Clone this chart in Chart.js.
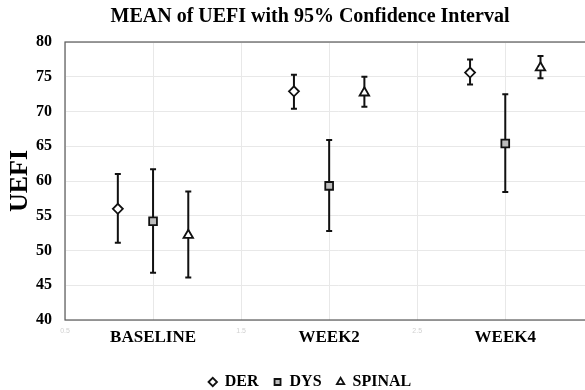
<!DOCTYPE html>
<html>
<head>
<meta charset="utf-8">
<script src="https://cdn.jsdelivr.net/npm/chart.js@4.4.1/dist/chart.umd.min.js"></script>
<style>
  html, body { margin: 0; padding: 0; background: #fff; overflow: hidden; }
  #wrap { width: 620px; height: 400px; }
</style>
</head>
<body>
<div id="wrap"><canvas id="myChart"></canvas></div>
<script>
// data
const categories = ['BASELINE', 'WEEK2', 'WEEK4']
const seriesNames = ['DER', 'DYS', 'SPINAL']
const groupOffsets = [-0.2, 0, 0.2]

const derMean = [56.0, 72.9, 75.6]
const derLow = [51.1, 70.4, 73.9]
const derHigh = [61.0, 75.3, 77.5]

const dysMean = [54.2, 59.3, 65.4]
const dysLow = [46.8, 52.8, 58.4]
const dysHigh = [61.7, 65.9, 72.5]

const spinalMean = [52.2, 72.7, 76.3]
const spinalLow = [46.1, 70.7, 74.8]
const spinalHigh = [58.5, 75.0, 78.0]

const yTicks = [40, 45, 50, 55, 60, 65, 70, 75, 80]
const xTicks = [0.5, 1, 1.5, 2, 2.5, 3, 3.5]
const faintTicks = ['0.5', '1.5', '2.5']

const serif = "'Liberation Serif', 'Times New Roman', serif"

const makePoints = (means, lows, highs, k) =>
  means.map((m, i) => ({ x: i + 1 + groupOffsets[k], y: m, lo: lows[i], hi: highs[i] }))

const isCat = (c) => !!(c && c.tick && Number.isInteger(c.tick.value))

const errorBars = {
  id: 'errorBars',
  beforeDatasetsDraw(chart) {
    const ctx = chart.ctx
    const xs = chart.scales.x
    const ys = chart.scales.y
    ctx.save()
    ctx.strokeStyle = '#111'
    ctx.lineWidth = 2
    chart.data.datasets.forEach(ds => {
      ds.data.forEach(p => {
        const px = xs.getPixelForValue(p.x)
        const top = ys.getPixelForValue(p.hi)
        const bot = ys.getPixelForValue(p.lo)
        ctx.beginPath()
        ctx.moveTo(px, top); ctx.lineTo(px, bot)
        ctx.moveTo(px - 3, top); ctx.lineTo(px + 3, top)
        ctx.moveTo(px - 3, bot); ctx.lineTo(px + 3, bot)
        ctx.stroke()
      })
    })
    ctx.restore()
  }
}

const frame = {
  id: 'frame',
  afterDraw(chart) {
    const a = chart.chartArea
    const ctx = chart.ctx
    ctx.save()
    ctx.strokeStyle = '#595959'
    ctx.lineWidth = 1.2
    ctx.strokeRect(a.left, a.top, a.right - a.left, a.bottom - a.top)
    ctx.restore()
  }
}

new Chart('myChart', {
  type: 'scatter',
  data: {
    datasets: [
      {
        label: seriesNames[0],
        data: makePoints(derMean, derLow, derHigh, 0),
        pointStyle: 'rectRot',
        pointRadius: 5,
        pointHoverRadius: 5,
        backgroundColor: '#fff',
        borderColor: '#111',
        borderWidth: 1.8
      },
      {
        label: seriesNames[1],
        data: makePoints(dysMean, dysLow, dysHigh, 1),
        pointStyle: 'rect',
        pointRadius: 5.5,
        pointHoverRadius: 5.5,
        backgroundColor: '#bdbdbd',
        borderColor: '#111',
        borderWidth: 1.8
      },
      {
        label: seriesNames[2],
        data: makePoints(spinalMean, spinalLow, spinalHigh, 2),
        pointStyle: 'triangle',
        pointRadius: 5.5,
        pointHoverRadius: 5.5,
        backgroundColor: '#fff',
        borderColor: '#111',
        borderWidth: 1.8
      }
    ]
  },
  options: {
    responsive: true,
    maintainAspectRatio: false,
    animation: false,
    layout: { padding: 0 },
    plugins: {
      title: {
        display: true,
        text: 'MEAN of UEFI with 95% Confidence Interval',
        color: '#000',
        font: { family: serif, size: 20, weight: 'bold' },
        padding: { top: 5, bottom: 13 }
      },
      legend: {
        position: 'bottom',
        labels: {
          usePointStyle: true,
          boxWidth: 8,
          boxHeight: 6,
          padding: 15,
          color: '#000',
          font: { family: serif, size: 16, weight: 'bold' }
        }
      },
      tooltip: { enabled: false }
    },
    scales: {
      x: {
        type: 'linear',
        min: 0.5,
        max: 3.61,
        grid: { color: '#e8e8e8', drawTicks: false },
        border: { display: false },
        afterBuildTicks: (scale) => {
          scale.ticks = xTicks.map(v => ({ value: v }))
        },
        ticks: {
          padding: 7,
          maxRotation: 0,
          autoSkip: false,
          callback: (v) => {
            if (Number.isInteger(v)) return categories[v - 1]
            const s = Number(v).toFixed(1)
            return faintTicks.includes(s) ? s : ''
          },
          color: (c) => isCat(c) ? '#000' : '#d0d0d0',
          font: (c) => isCat(c)
            ? { family: serif, size: 17, weight: 'bold' }
            : { family: 'Liberation Sans', size: 7 }
        },
        afterFit: (scale) => { scale.height = 39 }
      },
      y: {
        min: 40,
        max: 80,
        grid: { color: '#e8e8e8', drawTicks: false },
        border: { display: false },
        afterBuildTicks: (scale) => {
          scale.ticks = yTicks.map(v => ({ value: v }))
        },
        ticks: {
          padding: 13,
          color: '#000',
          font: { family: serif, size: 16, weight: 'bold' }
        },
        title: {
          display: true,
          text: 'UEFI',
          color: '#000',
          font: { family: serif, size: 26, weight: 'bold' },
          padding: { top: 5, bottom: 0 }
        },
        afterFit: (scale) => { scale.width = 65 }
      }
    }
  },
  plugins: [errorBars, frame]
})
</script>
</body>
</html>
